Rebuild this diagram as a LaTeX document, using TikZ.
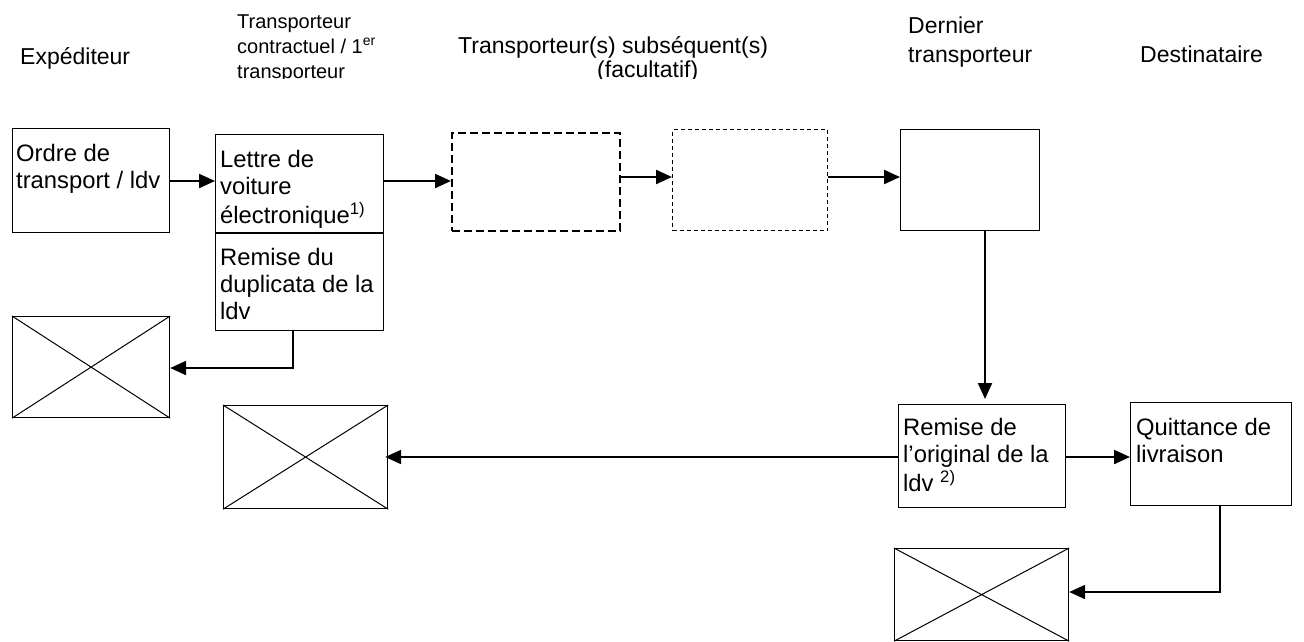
\documentclass[tikz,border=0pt]{standalone}
\usepackage{fontspec}
\setmainfont{Liberation Sans}
\usetikzlibrary{arrows.meta}
\newcommand\mlines[1]{\begin{tabular}[t]{@{}l@{}}#1\end{tabular}}
\begin{document}
\begin{tikzpicture}[x=1pt,y=-1pt,
  box/.style={draw,line width=1.2pt,inner sep=0pt,anchor=north west},
  dashA/.style={box,dash pattern=on 8pt off 4pt,line width=1.6pt},
  dashB/.style={box,dash pattern=on 4pt off 3pt,line width=1pt},
  txt/.style={inner sep=0pt,anchor=base west,font=\fontsize{23.8}{27}\selectfont},
  hdr/.style={inner sep=0pt,anchor=base west,font=\fontsize{23}{29}\selectfont},
  shdr/.style={inner sep=0pt,anchor=base west,font=\fontsize{20}{25}\selectfont},
  arr/.style={line width=2.2pt,-{Triangle[length=16pt,width=14pt]}},
  cross/.style={line width=1pt}]
\useasboundingbox (0,0) rectangle (1304,641);
\fill[white] (0,0) rectangle (1304,641);

% headers (clipped at the bottom as in the original)
\begin{scope}
\clip (0,0) rectangle (1304,78);
\node[hdr] (hexp) at (20,64) {Expéditeur};
\node[shdr] (htr) at (237,28) {\mlines{Transporteur\\contractuel / 1\textsuperscript{er}\\transporteur}};
\node[hdr] (hsub) at (458,53) {Transporteur(s) subséquent(s)};
\node[hdr] (hfac) at (597,77) {(facultatif)};
\node[hdr] (hder) at (908,33) {\mlines{Dernier\\transporteur}};
\node[hdr] (hdest) at (1140,62) {Destinataire};
\end{scope}

% boxes
\node[box,minimum width=157pt,minimum height=104pt] (ordre) at (12,128) {};
\node[box,minimum width=168pt,minimum height=98pt] (lettre) at (215,134) {};
\node[box,minimum width=168pt,minimum height=98pt] (dup) at (215,232) {};
\draw[line width=2pt] (lettre.south west) -- (lettre.south east);
\node[dashA,minimum width=168pt,minimum height=98pt] (d1) at (451,132) {};
\node[dashB,minimum width=155pt,minimum height=101pt] (d2) at (672,129) {};
\node[box,minimum width=139pt,minimum height=101pt] (dern) at (900,129) {};
\node[box,minimum width=167pt,minimum height=103pt] (rem) at (898,404) {};
\node[box,minimum width=161pt,minimum height=103pt] (quit) at (1130,402) {};

% crossed boxes
\node[box,minimum width=157pt,minimum height=101pt] (x1) at (12,316) {};
\node[box,minimum width=164pt,minimum height=103pt] (x2) at (223,405) {};
\node[box,minimum width=174pt,minimum height=92pt] (x3) at (894,548) {};
\foreach \b in {x1,x2,x3}{
  \draw[cross] (\b.north west) -- (\b.south east) (\b.north east) -- (\b.south west);
}

% box texts
\node[txt] (tordre) at (16,161) {\mlines{Ordre de\\transport / ldv}};
\begin{scope}
\clip (215,134) rectangle (383,231);
\node[txt] (tlettre) at (220,167) {\mlines{Lettre de\\voiture\\électronique\textsuperscript{1)}}};
\end{scope}
\node[txt] (tdup) at (220,265) {\mlines{Remise du\\duplicata de la\\ldv}};
\node[txt] (trem) at (903,435) {\mlines{Remise de\\l’original de la\\ldv \textsuperscript{2)}}};
\node[txt] (tquit) at (1136,435) {\mlines{Quittance de\\livraison}};

% coordinates for connectors
\coordinate (dupturn) at (293,368);
\coordinate (quitturn) at (1220,592);

% connectors
\draw[arr] (ordre.east |- 0,181) -- (lettre.west |- 0,181);
\draw[arr] (lettre.east |- 0,181) -- (d1.west |- 0,181);
\draw[arr] (d1.east |- 0,177) -- (d2.west |- 0,177);
\draw[arr] (d2.east |- 0,177) -- (dern.west |- 0,177);
\draw[arr] (dern.south -| 985,0) -- ([yshift=5pt]rem.north -| 985,0);
\draw[arr] (rem.east |- 0,457) -- (quit.west |- 0,457);
\draw[arr] (rem.west |- 0,457) -- ([xshift=-3pt]x2.east |- 0,457);
\draw[arr] (dup.south -| dupturn) -- (dupturn) -- (x1.east |- dupturn);
\draw[arr] (quit.south -| quitturn) -- (quitturn) -- (x3.east |- quitturn);
\end{tikzpicture}
\end{document}
